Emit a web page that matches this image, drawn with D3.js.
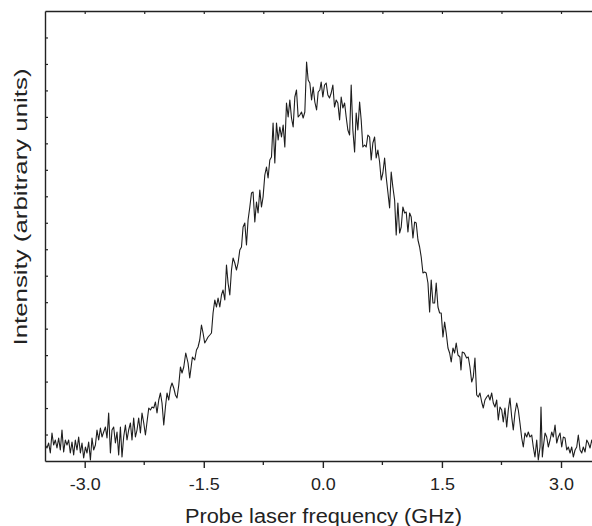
<!DOCTYPE html>
<html>
<head>
<meta charset="utf-8">
<script src="https://cdn.jsdelivr.net/npm/d3@7"></script>
<style>
  html, body { margin: 0; padding: 0; background: #fff; }
  svg { display: block; }
  text { font-family: "Liberation Sans", Arial, Helvetica, sans-serif; fill: #222; }
</style>
</head>
<body>
<div id="chart"></div>
<script>
// ---- data ----
const freqGHz = [
 -3.496,-3.475,-3.454,-3.433,-3.412,-3.391,-3.370,-3.349,-3.328,-3.307,
 -3.286,-3.265,-3.244,-3.223,-3.202,-3.181,-3.160,-3.139,-3.118,-3.097,
 -3.076,-3.054,-3.034,-3.013,-2.991,-2.971,-2.950,-2.928,-2.908,-2.887,
 -2.865,-2.845,-2.824,-2.802,-2.782,-2.761,-2.739,-2.719,-2.698,-2.676,
 -2.656,-2.635,-2.613,-2.593,-2.572,-2.550,-2.530,-2.509,-2.487,-2.467,
 -2.446,-2.424,-2.404,-2.383,-2.361,-2.341,-2.320,-2.298,-2.278,-2.256,
 -2.235,-2.215,-2.193,-2.172,-2.152,-2.130,-2.109,-2.089,-2.067,-2.046,
 -2.026,-2.004,-1.983,-1.963,-1.941,-1.920,-1.900,-1.878,-1.857,-1.837,
 -1.815,-1.794,-1.774,
 -1.752,-1.727,-1.698,-1.677,-1.643,-1.614,-1.592,-1.572,-1.551,-1.529,
 -1.509,-1.488,-1.466,-1.446,-1.424,-1.403,-1.383,-1.361,-1.340,-1.320,
 -1.298,-1.277,-1.257,-1.235,-1.214,-1.194,-1.172,-1.151,-1.131,-1.109,
 -1.088,-1.068,-1.046,-1.025,-1.005,-0.983,-0.962,-0.942,-0.920,-0.899,
 -0.879,-0.857,-0.836,-0.816,-0.794,-0.773,-0.753,-0.731,-0.710,-0.690,
 -0.668,-0.647,-0.627,-0.605,-0.584,-0.563,-0.542,-0.521,-0.500,-0.479,
 -0.458,-0.437,-0.416,-0.395,-0.374,-0.353,-0.332,-0.311,-0.290,-0.269,
 -0.248,-0.227,-0.205,-0.185,-0.164,-0.142,-0.122,-0.101,-0.079,-0.059,
 -0.038,
 -0.021,0.000,0.021,0.042,0.063,0.084,0.105,0.126,0.147,0.168,
 0.189,0.211,0.231,0.252,0.274,0.294,0.315,0.337,0.357,0.378,
 0.400,0.420,0.441,0.463,0.483,0.504,0.526,0.546,0.567,0.589,
 0.609,0.630,0.652,0.672,0.693,0.715,0.735,0.756,0.778,0.798,
 0.819,0.841,0.861,0.882,0.904,0.924,0.945,0.967,0.987,1.008,
 1.030,1.050,1.072,1.093,1.113,1.135,1.156,1.176,1.198,1.219,
 1.239,1.261,1.282,1.302,1.324,1.345,1.365,1.387,1.408,1.428,
 1.450,1.471,1.491,1.513,1.534,1.554,1.576,1.597,1.617,1.639,
 1.660,1.680,1.702,
 1.727,1.740,1.756,1.781,1.811,1.832,1.853,1.875,1.895,1.916,
 1.938,1.958,1.979,2.001,2.021,2.042,2.064,2.084,2.105,2.127,
 2.147,2.168,2.190,2.210,2.231,2.253,2.273,2.294,2.316,2.336,
 2.357,2.379,2.399,2.420,2.442,2.462,2.483,2.505,2.525,2.546,
 2.568,2.588,2.609,2.631,2.651,2.672,2.694,2.714,2.736,2.748,
 2.765,2.777,2.799,2.820,2.840,2.862,2.883,2.903,2.925,2.946,
 2.966,2.988,3.009,3.029,3.051,3.072,3.092,3.114,3.135,3.155,
 3.177,3.198,3.218,3.240,3.261,3.281,3.303,3.324,3.344,3.366,
 3.387,3.410
];
const intensity = [
 16,13,18,8,28,16,21,13,23,11,
 31,9,21,16,21,8,19,6,21,11,
 24,8,18,3,14,8,19,1,23,11,
 16,31,21,33,24,29,34,23,48,8,
 31,34,18,29,6,34,4,24,36,21,
 31,38,21,43,24,31,43,28,48,38,
 26,39,53,51,54,53,59,48,61,68,
 58,36,54,68,61,73,78,73,66,63,
 76,94,88,
 94,108,98,83,104,101,111,114,121,136,
 128,118,121,124,126,128,148,161,154,163,
 154,166,171,161,196,178,166,191,203,198,
 191,198,211,214,234,238,216,241,254,268,
 269,239,259,248,271,254,264,286,294,283,
 301,304,338,298,338,321,334,324,336,314,
 358,344,361,343,334,364,371,344,346,349,
 343,349,399,381,378,361,374,359,351,369,
 371,
 379,364,376,378,366,363,368,376,354,361,
 358,341,364,353,358,344,331,326,376,331,
 309,348,331,359,341,314,316,314,326,324,
 301,318,324,303,311,299,281,288,303,284,
 269,253,289,274,261,226,258,228,234,254,
 248,249,229,248,244,223,239,238,221,214,
 204,188,189,188,178,149,181,158,158,178,
 154,148,148,124,139,128,113,108,99,113,
 108,118,106,
 104,91,109,108,103,104,94,79,84,103,
 66,64,68,59,53,61,64,66,61,68,
 58,54,61,41,54,51,39,53,34,51,
 63,44,31,48,58,51,38,23,14,28,
 24,29,24,26,14,4,21,1,14,54,
 4,14,28,24,14,21,29,24,36,18,
 24,28,14,24,23,11,14,8,14,4,
 11,14,26,11,8,14,9,21,18,13,
 21,15
];
const xMajorTicks = [-3.0, -1.5, 0.0, 1.5, 3.0];
const xTickLabels = ["-3.0", "-1.5", "0.0", "1.5", "3.0"];
const xMinorTicks = [-2.25, -0.75, 0.75, 2.25];
const xDomain = [-3.5, 3.5];
const yDomain = [0, 450];
const yTickDivisions = 17;
const xTitle = "Probe laser frequency (GHz)";
const yTitle = "Intensity (arbitrary units)";

// ---- drawing ----
const W = 592, H = 526;
const L = 45, T = 11, B = 461, R = 600.7;
const svg = d3.select("#chart").append("svg").attr("width", W).attr("height", H);

const x = d3.scaleLinear().domain(xDomain).range([L, R]);
const y = d3.scaleLinear().domain(yDomain).range([B, T]);

const pts = freqGHz.map((f, i) => [f, intensity[i]]).filter(d => d[1] !== undefined);

svg.append("defs").append("clipPath").attr("id", "plotclip")
  .append("rect").attr("x", L).attr("y", T).attr("width", W - L).attr("height", B - T);

svg.append("path")
  .datum(pts)
  .attr("clip-path", "url(#plotclip)")
  .attr("fill", "none")
  .attr("stroke", "#1e1e1e")
  .attr("stroke-width", 1.1)
  .attr("stroke-linejoin", "round")
  .attr("d", d3.line().x(d => x(d[0])).y(d => y(d[1])));

const axisColor = "#222";

// widen text along its baseline (the reference lettering is broader than Arial)
function widen(sel, factor) {
  sel.each(function () {
    const len = this.getComputedTextLength();
    d3.select(this).attr("textLength", len * factor).attr("lengthAdjust", "spacingAndGlyphs");
  });
}

// bottom axis (major ticks outward)
const gB = svg.append("g").attr("transform", `translate(0,${B})`)
  .call(d3.axisBottom(x).tickValues(xMajorTicks).tickSize(7).tickSizeOuter(0)
    .tickFormat((d, i) => xTickLabels[i]));
gB.select(".domain").attr("stroke", axisColor).attr("stroke-width", 1.4);
gB.selectAll(".tick line").attr("stroke", axisColor).attr("stroke-width", 1.4);
gB.selectAll(".tick text").attr("font-size", 16).attr("dy", null).attr("y", 29)
  .attr("font-family", '"Liberation Sans", Arial, sans-serif').attr("fill", "#222");
widen(gB.selectAll(".tick text"), 1.12);

// bottom minor ticks
svg.append("g").selectAll("line").data(xMinorTicks).join("line")
  .attr("x1", d => x(d)).attr("x2", d => x(d))
  .attr("y1", B).attr("y2", B + 4)
  .attr("stroke", axisColor).attr("stroke-width", 1.3);

// top axis (inward ticks)
const gT = svg.append("g").attr("transform", `translate(0,${T})`)
  .call(d3.axisTop(x).tickValues(xMajorTicks.concat(xMinorTicks)).tickSize(-3).tickSizeOuter(0).tickFormat(""));
gT.select(".domain").attr("stroke", axisColor).attr("stroke-width", 1.4);
gT.selectAll(".tick line").attr("stroke", axisColor).attr("stroke-width", 1.2);

// left axis (inward ticks, no labels)
const yTicks = d3.range(1, yTickDivisions).map(i => yDomain[0] + i * (yDomain[1] - yDomain[0]) / yTickDivisions);
const gL = svg.append("g").attr("transform", `translate(${L},0)`)
  .call(d3.axisLeft(y).tickValues(yTicks).tickSize(-3).tickSizeOuter(0).tickFormat(""));
gL.select(".domain").attr("stroke", axisColor).attr("stroke-width", 1.4);
gL.selectAll(".tick line").attr("stroke", axisColor).attr("stroke-width", 1.2);

// titles
svg.append("text")
  .attr("x", 323.5).attr("y", 523)
  .attr("text-anchor", "middle")
  .attr("font-size", 20)
  .attr("textLength", 277).attr("lengthAdjust", "spacingAndGlyphs")
  .text(xTitle);

svg.append("text")
  .attr("transform", `translate(27,207) rotate(-90)`)
  .attr("text-anchor", "middle")
  .attr("font-size", 19)
  .attr("textLength", 277).attr("lengthAdjust", "spacingAndGlyphs")
  .text(yTitle);
</script>
</body>
</html>
